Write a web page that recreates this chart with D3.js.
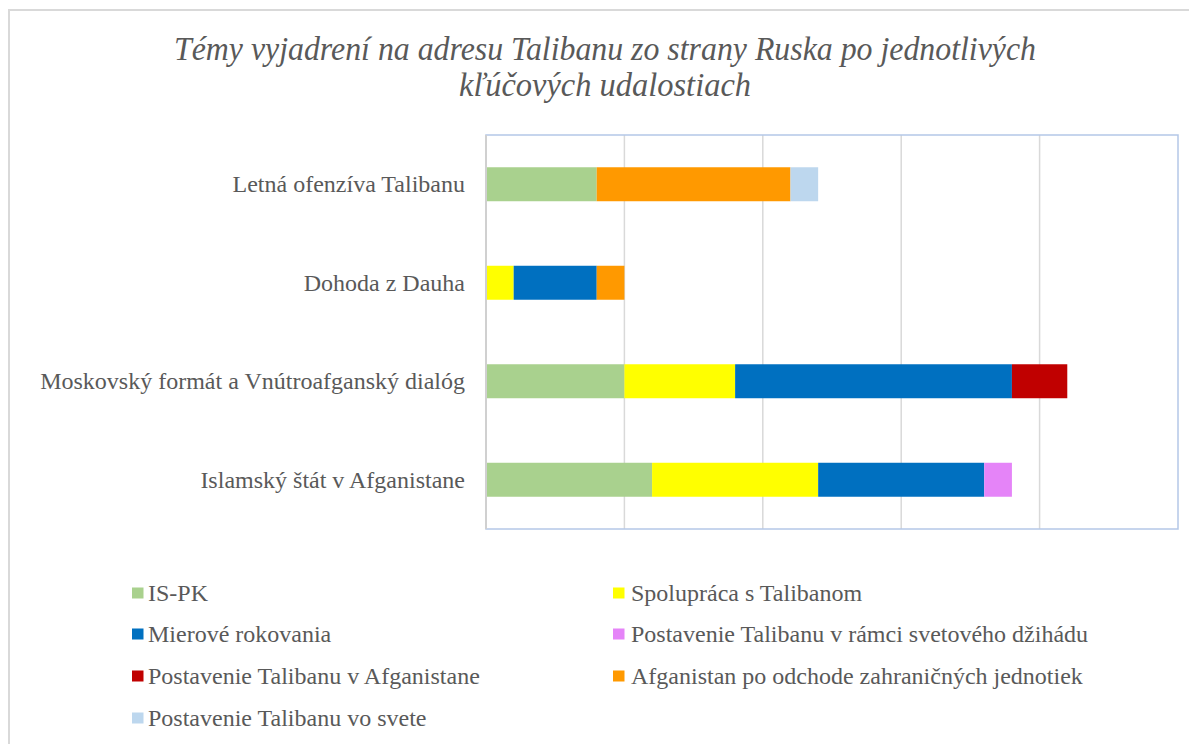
<!DOCTYPE html>
<html>
<head>
<meta charset="utf-8">
<script src="https://cdn.jsdelivr.net/npm/d3@7"></script>
<style>
  body { margin: 0; background: #fff; }
</style>
</head>
<body>
<script>
const categories = [
  "Letná ofenzíva Talibanu",
  "Dohoda z Dauha",
  "Moskovský formát a Vnútroafganský dialóg",
  "Islamský štát v Afganistane"
];
const seriesNames = [
  "IS-PK",
  "Spolupráca s Talibanom",
  "Mierové rokovania",
  "Postavenie Talibanu v rámci svetového džihádu",
  "Postavenie Talibanu v Afganistane",
  "Afganistan po odchode zahraničných jednotiek",
  "Postavenie Talibanu vo svete"
];
const seriesColors = ["#a9d18e", "#ffff00", "#0070c0", "#e584f8", "#c00000", "#ff9900", "#bdd7ee"];
// values per series, in order of categories
const isPk         = [4, 0, 5, 6];
const spolupraca   = [0, 1, 4, 6];
const mierove      = [0, 3, 10, 6];
const dzihad       = [0, 0, 0, 1];
const vAfganistane = [0, 0, 2, 0];
const poOdchode    = [7, 1, 0, 0];
const voSvete      = [1, 0, 0, 0];
const seriesValues = [isPk, spolupraca, mierove, dzihad, vAfganistane, poOdchode, voSvete];
const xTicks = [0, 5, 10, 15, 20, 25];
const titleLines = [
  "Témy vyjadrení na adresu Talibanu zo strany Ruska po jednotlivých",
  "kľúčových udalostiach"
];

const width = 1189, height = 744;
const plot = { left: 486, right: 1178, top: 135, bottom: 529 };
const serif = "'Liberation Serif', 'Times New Roman', serif";
const textColor = "#595959";

const svg = d3.select("body").append("svg")
  .attr("width", width)
  .attr("height", height);

// outer frame
svg.append("path")
  .attr("d", `M9,${height} V10 H${width}`)
  .attr("fill", "none")
  .attr("stroke", "#d9d9d9")
  .attr("stroke-width", 2);

// title
svg.append("g").selectAll("text")
  .data(titleLines)
  .enter()
  .append("text")
  .attr("x", 605)
  .attr("y", (d, i) => 60 + i * 36)
  .attr("text-anchor", "middle")
  .attr("font-size", 33)
  .attr("textLength", (d, i) => i === 0 ? 862 : 292)
  .attr("lengthAdjust", "spacingAndGlyphs")
  .style("font-family", serif)
  .style("font-style", "italic")
  .style("fill", textColor)
  .text(d => d);

const x = d3.scaleLinear().domain([0, 25]).range([plot.left, plot.right]);
const y = d3.scaleBand().domain(categories)
  .range([plot.top, plot.bottom])
  .paddingInner(0.655)
  .paddingOuter(0.3275);

// gridlines
svg.append("g").selectAll("line")
  .data(xTicks.slice(1, -1))
  .enter()
  .append("line")
  .attr("x1", d => x(d)).attr("x2", d => x(d))
  .attr("y1", plot.top).attr("y2", plot.bottom)
  .attr("stroke", "#d9d9d9")
  .attr("stroke-width", 1.5);

// stacked data
const rows = categories.map((c, i) => {
  const r = { cat: c };
  seriesNames.forEach((s, j) => r[s] = seriesValues[j][i]);
  return r;
});
const stacked = d3.stack().keys(seriesNames)(rows);

svg.append("g").selectAll("g")
  .data(stacked)
  .enter()
  .append("g")
  .attr("fill", (d, i) => seriesColors[i])
  .selectAll("rect")
  .data(d => d.filter(p => p[1] > p[0]))
  .enter()
  .append("rect")
  .attr("x", d => x(d[0]))
  .attr("y", d => y(d.data.cat))
  .attr("width", d => x(d[1]) - x(d[0]))
  .attr("height", y.bandwidth());

// plot border
svg.append("rect")
  .attr("x", plot.left).attr("y", plot.top)
  .attr("width", plot.right - plot.left)
  .attr("height", plot.bottom - plot.top)
  .attr("fill", "none")
  .attr("stroke", "#b4c7e7")
  .attr("stroke-width", 1.5);
svg.append("line")
  .attr("x1", plot.left).attr("x2", plot.left)
  .attr("y1", plot.top).attr("y2", plot.bottom)
  .attr("stroke", "#d0d0d0")
  .attr("stroke-width", 2);

// category labels
const yAxis = d3.axisLeft(y).tickSize(0).tickPadding(21);
const ya = svg.append("g")
  .attr("transform", `translate(${plot.left},0)`)
  .call(yAxis);
ya.select(".domain").remove();
ya.selectAll("text")
  .attr("font-size", 24)
  .attr("dy", "0.33em")
  .style("font-family", serif)
  .style("fill", textColor);

// legend
const legendRows = [593, 634, 676, 718];
const swatchX = [132, 613];
const labelX = [148, 631];
const legend = svg.append("g").selectAll("g")
  .data(seriesNames)
  .enter()
  .append("g")
  .attr("transform", (d, i) => `translate(0,${legendRows[Math.floor(i / 2)]})`);
legend.append("rect")
  .attr("x", (d, i) => swatchX[i % 2]).attr("y", -5.5)
  .attr("width", 11.5).attr("height", 11)
  .attr("fill", (d, i) => seriesColors[i]);
legend.append("text")
  .attr("x", (d, i) => labelX[i % 2])
  .attr("dy", "0.33em")
  .attr("font-size", 24)
  .style("font-family", serif)
  .style("fill", textColor)
  .text(d => d);
</script>
</body>
</html>
